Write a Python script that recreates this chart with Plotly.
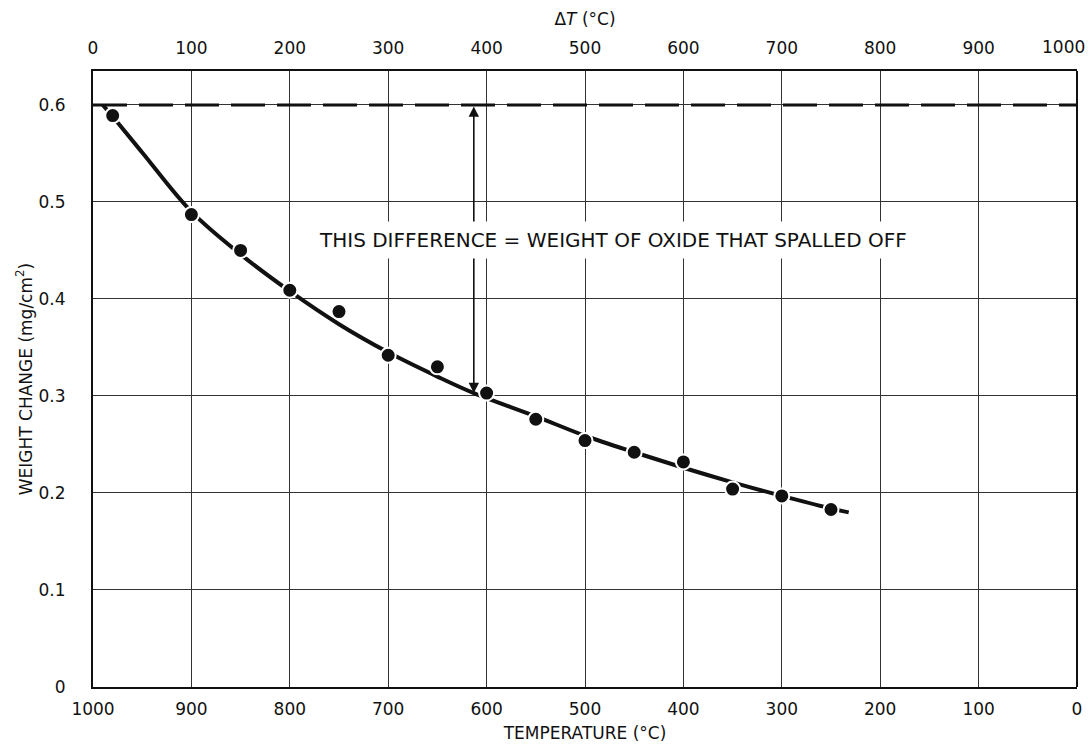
import plotly.graph_objects as go

# Measured weight change of oxidised specimens vs. quench temperature
temp_pts = [980, 900, 850, 800, 750, 700, 650, 600, 550, 500, 450, 400, 350, 300, 250]
wc_pts = [0.589, 0.487, 0.450, 0.409, 0.387, 0.342, 0.330, 0.303, 0.276, 0.254, 0.242, 0.232, 0.204, 0.197, 0.183]

# Faired curve through the data
temp_curve = [990, 980, 950, 900, 850, 800, 750, 700, 650, 613, 550, 500, 450, 400, 350, 300, 250, 232]
wc_curve = [0.600, 0.588, 0.551, 0.490, 0.446, 0.408, 0.374, 0.345, 0.320, 0.303, 0.279, 0.259, 0.242, 0.226, 0.211, 0.197, 0.184, 0.180]

# Total weight gain before spalling
wc_total = 0.600
arrow_temp = 613
arrow_low = 0.303

x_ticks_bottom = [1000, 900, 800, 700, 600, 500, 400, 300, 200, 100, 0]
x_ticks_top = [0, 100, 200, 300, 400, 500, 600, 700, 800, 900]
x_top_last = 1000
y_ticks = [0, 0.1, 0.2, 0.3, 0.4, 0.5, 0.6]
y_tick_text = ["0", "0.1", "0.2", "0.3", "0.4", "0.5", "0.6"]

FONT = "DejaVu Sans"
INK = "#111111"

fig = go.Figure()

fig.add_trace(go.Scatter(
    x=[1000, 0], y=[wc_total, wc_total], mode="lines",
    line=dict(color=INK, width=3, dash="34px,12px"),
    hoverinfo="skip", showlegend=False))

fig.add_trace(go.Scatter(
    x=temp_curve, y=wc_curve, mode="lines",
    line=dict(color=INK, width=4, shape="spline", smoothing=1.0),
    hoverinfo="skip", showlegend=False))

fig.add_trace(go.Scatter(
    x=temp_pts, y=wc_pts, mode="markers",
    marker=dict(color=INK, size=15, line=dict(color="white", width=2)),
    showlegend=False))

# ΔT axis on top (ΔT = 1000 - T)
fig.add_trace(go.Scatter(
    x=[1000 - t for t in temp_pts], y=wc_pts, mode="markers",
    marker=dict(opacity=0), xaxis="x2", hoverinfo="skip", showlegend=False))

fig.add_annotation(
    x=arrow_temp, y=arrow_low, ax=arrow_temp, ay=wc_total,
    xref="x", yref="y", axref="x", ayref="y",
    text="", showarrow=True, arrowhead=2, arrowside="end+start",
    arrowsize=1.3, arrowwidth=1.6, arrowcolor=INK)

fig.add_annotation(
    x=472, y=0.461, xref="x", yref="y",
    text="THIS DIFFERENCE = WEIGHT OF OXIDE THAT SPALLED OFF",
    showarrow=False, bgcolor="white", borderpad=6,
    font=dict(family=FONT, size=20, color=INK))

tick_font = dict(family=FONT, size=17, color=INK)
title_font = dict(family=FONT, size=17, color=INK)

# last ΔT label sits flush with the right frame edge
fig.add_annotation(
    x=x_top_last, xref="x2", y=1, yref="paper", yanchor="bottom", xanchor="right",
    xshift=10, yshift=12, text=str(x_top_last), showarrow=False, font=tick_font)

axis_common = dict(
    showgrid=True, gridcolor="#333333", gridwidth=1,
    showline=True, linecolor=INK, linewidth=2, mirror=False,
    zeroline=False, ticks="", tickfont=tick_font, ticklabeloverflow="allow",
    automargin=False,
)

fig.update_layout(
    width=1091, height=749,
    margin=dict(l=93, r=14, t=71, b=62),
    paper_bgcolor="white", plot_bgcolor="white",
    font=dict(family=FONT, color=INK),
    xaxis=dict(
        range=[1000, 0], tickvals=x_ticks_bottom, ticklabelstandoff=6,
        title=dict(text="TEMPERATURE (°C)", font=title_font, standoff=9),
        **axis_common),
    xaxis2=dict(
        range=[0, 1000], tickvals=x_ticks_top, overlaying="x", side="top",
        anchor="y", ticklabelstandoff=8, showgrid=False, ticklabeloverflow="allow",
        automargin=False,
        showline=True, linecolor=INK, linewidth=2, zeroline=False, ticks="",
        tickfont=tick_font,
        title=dict(text="Δ<i>T</i> (°C)", font=title_font, standoff=8)),
    yaxis=dict(
        range=[0, 0.635], tickvals=y_ticks, ticktext=y_tick_text, ticklabelstandoff=22,
        title=dict(text="WEIGHT CHANGE (mg/cm<sup>2</sup>)", font=title_font, standoff=2),
        **axis_common),
)

fig.add_shape(type="line", xref="paper", yref="paper", x0=1, x1=1, y0=0, y1=1,
              line=dict(color=INK, width=2))

fig.write_html("out.html")
